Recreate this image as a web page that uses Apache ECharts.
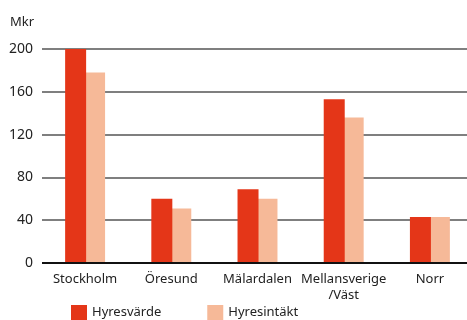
<!DOCTYPE html>
<html>
<head><meta charset="utf-8"></head>
<script type="text/javascript" src="https://cdn.jsdelivr.net/npm/echarts@6/dist/echarts.min.js"></script>
<body style="margin:0;background:#fff;">
    <div id="main" style="width:467px;height:320px;"></div>
</body>
<script type="text/javascript">
var categories = ['Stockholm', 'Öresund', 'Mälardalen', 'Mellansverige\n/Väst', 'Norr']
var hyresvarde = [200, 60, 69, 153, 43]
var hyresintakt = [178, 51, 60, 136, 43]
var yTicks = [0, 40, 80, 120, 160, 200]

var font = 'Noto Sans'
var myChart = echarts.init(document.getElementById('main'))
myChart.setOption({
    animation: false,
    textStyle: {fontFamily: font},
    grid: {left: 42, width: 431, top: 49, bottom: 57, outerBoundsMode: 'none', containLabel: false},
    legend: {
        bottom: -5,
        left: 66,
        itemWidth: 16,
        itemHeight: 15,
        itemGap: 46,
        icon: 'rect',
        textStyle: {fontSize: 13, color: '#222', fontFamily: font},
        data: ['Hyresvärde', 'Hyresintäkt']
    },
    xAxis: {
        type: 'category',
        data: categories,
        axisLine: {show: false},
        axisTick: {show: false},
        axisLabel: {interval: 0, fontSize: 13, color: '#222', margin: 8, lineHeight: 16, fontFamily: font}
    },
    yAxis: {
        type: 'value',
        min: yTicks[0],
        max: yTicks[yTicks.length - 1],
        interval: 40,
        name: 'Mkr',
        nameLocation: 'end',
        nameGap: 20,
        nameTextStyle: {fontSize: 13, color: '#222', align: 'right', padding: [0, 8, 0, 0], fontFamily: font},
        axisLine: {show: false},
        axisTick: {show: false},
        axisLabel: {fontSize: 14, color: '#222', margin: 9, fontFamily: font},
        splitLine: {lineStyle: {color: '#555', width: 1.5}}
    },
    series: [
        {
            name: 'Hyresvärde',
            type: 'bar',
            data: hyresvarde,
            barWidth: 21,
            barGap: '-5%',
            itemStyle: {color: '#e43618'},
            z: 3
        },
        {
            name: 'Hyresintäkt',
            type: 'bar',
            data: hyresintakt,
            barWidth: 20,
            itemStyle: {color: '#f6b998'},
            z: 2
        },
        {
            type: 'line',
            data: [],
            markLine: {
                silent: true,
                symbol: 'none',
                label: {show: false},
                lineStyle: {color: '#111', width: 2, type: 'solid'},
                data: [{yAxis: 0}]
            }
        }
    ]
})
</script>
</html>
